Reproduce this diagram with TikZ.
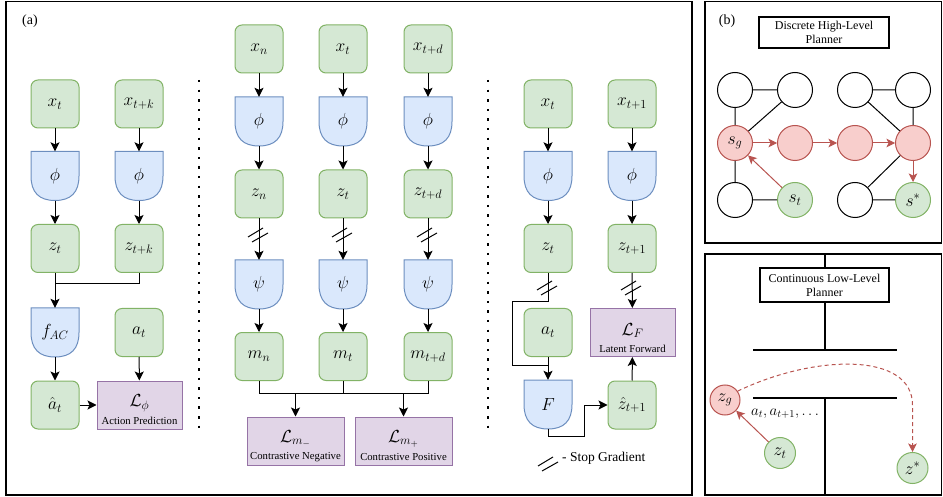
\RequirePackage{fix-cm}
\documentclass[tikz,border=0pt]{standalone}
\usepackage[no-math]{fontspec}
\setmainfont{Liberation Serif}
\usetikzlibrary{arrows.meta,calc}

\definecolor{gfill}{HTML}{D5E8D4}\definecolor{gline}{HTML}{82B366}
\definecolor{bfill}{HTML}{DAE8FC}\definecolor{bline}{HTML}{6C8EBF}
\definecolor{pfill}{HTML}{E1D5E7}\definecolor{pline}{HTML}{9673A6}
\definecolor{rfill}{HTML}{F8CECC}\definecolor{rline}{HTML}{B85450}

\newcommand\losstxtfont{\fontsize{10.7}{12}\selectfont}
\newcommand\mathbig{\fontsize{17.5}{19}\selectfont}

\tikzset{
  mth/.style={font=\mathbig},
  gbox/.style={draw=gline, fill=gfill, line width=1pt, rounded corners=7pt,
    minimum width=48pt, minimum height=48pt, inner sep=0pt, mth},
  encnode/.style={minimum width=48pt, minimum height=49pt, inner sep=0pt, mth},
  encline/.style={draw=bline, fill=bfill, line width=1pt},
  lossbox/.style={draw=pline, fill=pfill, line width=1pt, inner sep=0pt,
    minimum height=48pt},
  losstxt/.style={font=\losstxtfont, inner sep=0pt},
  arr/.style={-{Stealth[length=9pt,width=9pt,inset=2pt]}, line width=1pt},
  link/.style={line width=1pt},
  frame/.style={line width=1.3pt},
  dots/.style={line width=2.5pt, dash pattern=on 2.5pt off 7.1pt},
  gnode/.style={circle, draw, line width=1pt, minimum size=35pt, inner sep=0pt, mth},
  wnode/.style={gnode, draw=black, fill=white},
  rnode/.style={gnode, draw=rline, fill=rfill},
  grnode/.style={gnode, draw=gline, fill=gfill},
  rarr/.style={-{Stealth[length=8.5pt,width=8.5pt,inset=2pt]}, line width=1pt, draw=rline},
  planbox/.style={draw, line width=1.3pt, fill=white, align=center,
    font=\fontsize{12}{14}\selectfont, inner sep=0pt},
}

% encoder block: flat top, rounded bottom
\newcommand\encshape[4]{%
  \draw[encline, shift={(#2,#3)}] (-24,-24.5) -- (24,-24.5) -- (24,0)
    .. controls (24,16.33) and (16,24.5) .. (0,24.5)
    .. controls (-16,24.5) and (-24,16.33) .. (-24,0) -- cycle;
  \node[encnode] (#1) at (#2,#3) {#4};}

% loss block: symbol with a caption underneath
\newcommand\lossnode[6]{%
  \node[lossbox, minimum width=#4pt] (#1) at (#2,#3) {};
  \node[mth, inner sep=0pt] (#1m) at (#2,#3-2) {#5};
  \node[losstxt] (#1t) at (#2,#3+16) {#6};}

% stop-gradient mark: two short slanted strokes
\newcommand\sgmark[2]{%
  \draw[link, shift={(#1,#2)}] (-11,2) -- (4,-7) (-7,7) -- (9,-2);}

\begin{document}
\begin{tikzpicture}[x=1pt,y=-1pt]
\useasboundingbox (0,0) rectangle (943,497);

% ---------------- panel frames ----------------
\draw[frame] (6,1.5) rectangle (692,495);
\draw[frame] (705,1.5) rectangle (941.5,243);
\draw[frame] (705,254) rectangle (941.5,495);
\node[font=\fontsize{14}{16}\selectfont] (labA) at (30,21) {(a)};
\node[font=\fontsize{14}{16}\selectfont] (labB) at (727,21) {(b)};

% ---------------- action prediction ----------------
\node[gbox] (L1x) at (55,104) {$x_t$};
\node[gbox] (L2x) at (139,104) {$x_{t+k}$};
\encshape{L1e}{55}{176}{$\phi$}
\encshape{L2e}{139}{176}{$\phi$}
\node[gbox] (L1z) at (55,248.5) {$z_t$};
\node[gbox] (L2z) at (139,248.5) {$z_{t+k}$};
\coordinate (Lm) at (55,284);
\encshape{Lf}{55}{332.5}{$f_{AC}$}
\node[gbox] (La) at (139,332.5) {$a_t$};
\node[gbox] (Lah) at (55,405) {$\hat{a}_t$};
\lossnode{Lloss}{139.5}{405}{85}{$\mathcal{L}_{\phi}$}{Action Prediction}

\draw[arr] (L1x) -- (L1e);
\draw[arr] (L2x) -- (L2e);
\draw[arr] (L1e) -- (L1z);
\draw[arr] (L2e) -- (L2z);
\draw[link] (L2z.south) |- (Lm);
\draw[arr] (L1z) -- (Lf);
\draw[arr] (Lf) -- (Lah);
\draw[arr] (La) -- (Lloss);
\draw[arr] (Lah) -- (Lloss);

\coordinate (D1a) at (199,80);
\coordinate (D1b) at (199,430);
\draw[dots] (D1a) -- (D1b);

% ---------------- contrastive ----------------
\node[gbox] (M1x) at (259,49) {$x_n$};
\node[gbox] (M2x) at (343,49) {$x_t$};
\node[gbox] (M3x) at (428,49) {$x_{t+d}$};
\encshape{M1e}{259}{121.5}{$\phi$}
\encshape{M2e}{343}{121.5}{$\phi$}
\encshape{M3e}{428}{121.5}{$\phi$}
\node[gbox] (M1z) at (259,194) {$z_n$};
\node[gbox] (M2z) at (343,194) {$z_t$};
\node[gbox] (M3z) at (428,194) {$z_{t+d}$};
\encshape{M1p}{259}{284.5}{$\psi$}
\encshape{M2p}{343}{284.5}{$\psi$}
\encshape{M3p}{428}{284.5}{$\psi$}
\node[gbox] (M1m) at (259,356.5) {$m_n$};
\node[gbox] (M2m) at (343,356.5) {$m_t$};
\node[gbox] (M3m) at (428,356.5) {$m_{t+d}$};
\lossnode{Lneg}{295.5}{441}{97}{$\mathcal{L}_{m_-}$}{Contrastive Negative}
\lossnode{Lpos}{403.5}{441}{97}{$\mathcal{L}_{m_+}$}{Contrastive Positive}

\foreach \c in {1,2,3}{
  \draw[arr] (M\c x) -- (M\c e);
  \draw[arr] (M\c e) -- (M\c z);
  \draw[arr] (M\c z) -- (M\c p);
  \draw[arr] (M\c p) -- (M\c m);
}
\sgmark{259}{235}
\sgmark{343}{235}
\sgmark{428}{235}
\coordinate (Mb1) at (259,393);
\coordinate (Mb3) at (428,393);
\draw[link] (M1m.south) -- (Mb1) -- (Mb3) -- (M3m.south);
\draw[link] (M2m.south) -- (M2m.south |- Mb1);
\draw[arr] (Lneg.north |- Mb1) -- (Lneg.north);
\draw[arr] (Lpos.north |- Mb1) -- (Lpos.north);

\coordinate (D2a) at (488,80);
\coordinate (D2b) at (488,430);
\draw[dots] (D2a) -- (D2b);

% ---------------- latent forward ----------------
\node[gbox] (R1x) at (548,104) {$x_t$};
\node[gbox] (R2x) at (632,104) {$x_{t+1}$};
\encshape{R1e}{548}{176}{$\phi$}
\encshape{R2e}{632}{176}{$\phi$}
\node[gbox] (R1z) at (548,248.5) {$z_t$};
\node[gbox] (R2z) at (632,248.5) {$z_{t+1}$};
\node[gbox] (Ra) at (548,332.5) {$a_t$};
\encshape{RF}{548}{404.5}{$F$}
\node[gbox] (Rzh) at (632,405) {$\hat{z}_{t+1}$};
\lossnode{LF}{632.5}{332.5}{85}{$\mathcal{L}_{F}$}{Latent Forward}

\draw[arr] (R1x) -- (R1e);
\draw[arr] (R2x) -- (R2e);
\draw[arr] (R1e) -- (R1z);
\draw[arr] (R2e) -- (R2z);
\coordinate (Rk1) at (512,302);
\coordinate (Rj) at (548,365);
\draw[link] (R1z.south) |- (Rk1) |- (Rj);
\sgmark{548}{288}
\draw[arr] (Ra) -- (RF);
\coordinate (Rk2) at (584,436);
\draw[arr] (RF.south) |- (Rk2) |- (Rzh.west);
\draw[arr] (Rzh) -- (LF);
\draw[arr] (R2z) -- (LF);
\sgmark{632}{288}

% legend
\sgmark{549}{464}
\node[anchor=west, font=\fontsize{13.5}{15}\selectfont, inner sep=0pt] (leg) at (562,458) {- Stop Gradient};

% ---------------- discrete high-level planner ----------------
\node[planbox, minimum width=130pt, minimum height=31pt] (hp) at (824,32.5)
  {Discrete High-Level\\Planner};
\node[wnode] (a1) at (735,90) {};
\node[wnode] (a2) at (795,90) {};
\node[wnode] (a3) at (855,90) {};
\node[wnode] (a4) at (913,90) {};
\node[rnode] (sg) at (735,143) {$s_g$};
\node[rnode] (b2) at (795,143) {};
\node[rnode] (b3) at (855,143) {};
\node[rnode] (b4) at (913,143) {};
\node[wnode] (c1) at (735,200) {};
\node[grnode] (st) at (795,200) {$s_t$};
\node[wnode] (c3) at (855,200) {};
\node[grnode] (ss) at (913,200) {$s^*$};

\draw[link] (a1) -- (a2) (a1) -- (sg) (a2) -- (sg) (sg) -- (c1) (c1) -- (st);
\draw[link] (a3) -- (a4) (a3) -- (b4) (a4) -- (b4) (b4) -- (c3) (c3) -- (ss);
\draw[rarr] (sg) -- (b2);
\draw[rarr] (b2) -- (b3);
\draw[rarr] (b3) -- (b4);
\draw[rarr] (b4) -- (ss);
\draw[rarr] (st) -- (sg);

% ---------------- continuous low-level planner ----------------
\draw[frame] (825,254) -- (825,350);
\draw[frame] (753,350) -- (897,350);
\draw[frame] (753,398) -- (897,398);
\draw[frame] (825,398) -- (825,495);
\node[planbox, minimum width=129pt, minimum height=34pt] (lp) at (824.5,285)
  {Continuous Low-Level\\Planner};
\node[rnode, minimum size=30pt] (zg) at (725,400) {$z_g$};
\node[grnode, minimum size=31pt] (zt) at (780,453) {$z_t$};
\node[grnode, minimum size=31pt] (zs) at (912.5,468) {$z^*$};
\node[font=\fontsize{15}{17}\selectfont, inner sep=0pt] (acts) at (785,414) {$a_t, a_{t+1}, \ldots$};
\draw[rarr] (zt) -- (zg);
\coordinate (zbend) at (912.5,405);
\draw[rarr, dash pattern=on 4pt off 3pt] (zg.35) .. controls (815,354) and (912.5,352) .. (zbend) -- (zs.north);
\end{tikzpicture}
\end{document}
